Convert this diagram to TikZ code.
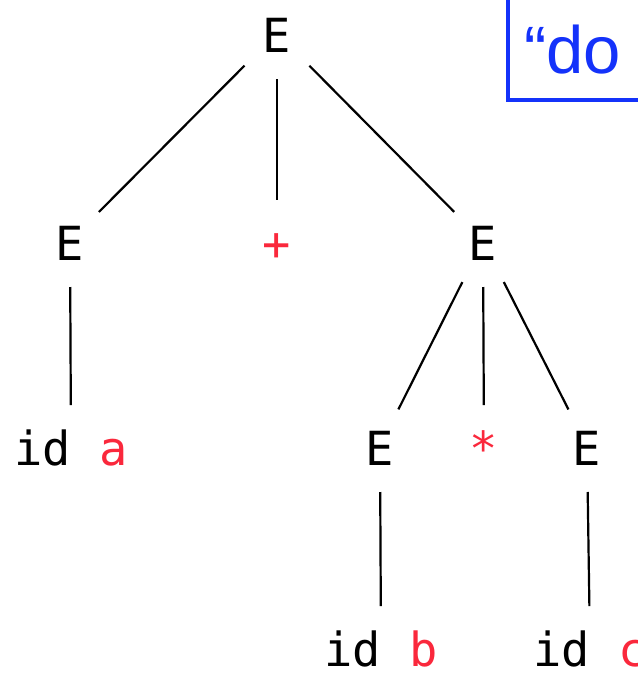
\documentclass[tikz,border=0pt]{standalone}
\usepackage{fontspec}
\setmonofont{DejaVu Sans Mono}
\newfontfamily\notefont{Liberation Sans}
\definecolor{symred}{RGB}{250,40,60}
\definecolor{noteblue}{RGB}{20,50,250}

\begin{document}
\begin{tikzpicture}[x=1pt,y=-1pt,
		sym/.style={inner sep=0pt, text height=38pt, text depth=0pt,
			font=\ttfamily\fontsize{47}{56}\selectfont},
		term/.style={sym, text=symred},
		edge/.style={line width=2.2pt, shorten <=46pt, shorten >=41pt}]
			\clip (0,0) rectangle (638,673);
			
			% tree nodes
			\node[sym] (root) at (277,33) {E};
			\node[sym] (left) at (70,241) {E};
			\node[term] (plus) at (277,241) {+};
			\node[sym] (right) at (483,241) {E};
			\node[sym] (ida) at (71,446) {id \textcolor{symred}{a}};
			\node[sym] (rleft) at (380,446) {E};
			\node[term] (star) at (484,446) {*};
			\node[sym] (rright) at (587,446) {E};
			\node[sym] (idb) at (381,647) {id \textcolor{symred}{b}};
			\node[sym] (idc) at (590,647) {id \textcolor{symred}{c}};
			
			\draw[edge] (root.center) -- (left.center);
			\draw[edge] (root.center) -- (plus.center);
			\draw[edge] (root.center) -- (right.center);
			\draw[edge] (left.center) -- (ida.center);
			\draw[edge] (right.center) -- (rleft.center);
			\draw[edge] (right.center) -- (star.center);
			\draw[edge] (right.center) -- (rright.center);
			\draw[edge] (rleft.center) -- (idb.center);
			\draw[edge] (rright.center) -- (idc.center);
			
			% note box, cut by the edge
			\draw[noteblue, line width=4pt] (508,-20) rectangle (700,100);
			\node[anchor=base west, inner sep=0pt, text=noteblue,
				font=\notefont\fontsize{67}{70}\selectfont] (note) at (524,73) {“do};
		\end{tikzpicture}
\end{document}
